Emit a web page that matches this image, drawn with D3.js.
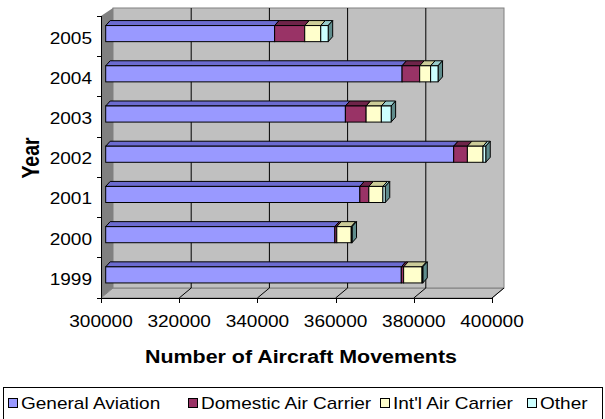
<!DOCTYPE html>
<html><head><meta charset="utf-8">
<script src="https://cdn.jsdelivr.net/npm/d3@7"></script>
<style>body{margin:0;background:#fff}svg{display:block}text{font-family:"Liberation Sans",Arial,sans-serif;fill:#000}</style>
</head><body><svg id="c" width="605" height="419"></svg>
<script>
const years = ["1999","2000","2001","2002","2003","2004","2005"];
const seriesNames = ["General Aviation","Domestic Air Carrier","Int'l Air Carrier","Other"];
const generalAviation = [375600,358600,365000,389000,361300,375800,343200];
const domesticAirCarrier = [600,500,2300,3500,5300,4500,7700];
const intlAirCarrier = [4700,3700,3600,4000,3900,2800,4100];
const other = [200,200,600,700,2500,1900,1900];
const xTicks = [300000,320000,340000,360000,380000,400000];
const colors = ["#9999FF","#993366","#FFFFCC","#CCFFFF"];
const topColors = ["#6B6BD0","#6E2449","#CCCC99","#99CCCC"];
const sideColors = ["#5C5C99","#5C1F3D","#99997A","#5F8C8C"];

const svg = d3.select("#c");
const SX = 1.19;
const x = d3.scaleLinear().domain([300000,400000]).range([101,492]);
const y = d3.scaleBand().domain(years.slice().reverse()).range([16,297.5]).paddingInner(0.6).paddingOuter(0.3);
const DX = 12, DYb = -10, DYt = -8;
const yTop = 16, yBot = 298;

// walls
svg.append("polygon").attr("points",[[101,yTop],[101+DX,yTop+DYt],[101+DX,yBot+DYb],[101,yBot]].join(" ")).attr("fill","#808080");
svg.append("polygon").attr("points",[[101,yBot],[101+DX,yBot+DYb],[x(400000)+DX,yBot+DYb],[x(400000),yBot]].join(" ")).attr("fill","#c0c0c0").attr("stroke","#808080");
svg.append("rect").attr("x",101+DX).attr("y",yTop+DYt).attr("width",x(400000)-101).attr("height",(yBot+DYb)-(yTop+DYt)).attr("fill","#c0c0c0").attr("stroke","#808080");

// gridlines
xTicks.forEach(v=>{
  if(v>300000 && v<400000){
    svg.append("line").attr("x1",x(v)+DX).attr("x2",x(v)+DX).attr("y1",yTop+DYt).attr("y2",yBot+DYb).attr("stroke","#000");
  }
  if(v>300000){
    svg.append("line").attr("x1",x(v)+DX).attr("y1",yBot+DYb).attr("x2",x(v)).attr("y2",yBot).attr("stroke","#000");
  }
});

// axes
svg.append("line").attr("x1",101.5).attr("x2",101.5).attr("y1",yTop).attr("y2",yBot).attr("stroke","#000");
svg.append("line").attr("x1",101).attr("x2",x(400000)).attr("y1",yBot+0.5).attr("y2",yBot+0.5).attr("stroke","#000");
const step = y.step();
for(let i=0;i<=years.length;i++){
  const yy = Math.round(yTop + i*step)+0.5;
  svg.append("line").attr("x1",97).attr("x2",101).attr("y1",yy).attr("y2",yy).attr("stroke","#000");
}
xTicks.forEach(v=>{
  const xx=Math.round(x(v))+0.5;
  svg.append("line").attr("x1",xx).attr("x2",xx).attr("y1",yBot).attr("y2",yBot+5).attr("stroke","#000");
});

function stext(px,py,str,anchor,opts={}){
  const sx = opts.sx||SX;
  const g = svg.append("g").attr("transform",`translate(${px},${py}) scale(${sx},1)`);
  return g.append("text").attr("text-anchor",anchor).attr("dominant-baseline","central")
    .attr("font-size",opts.size||16).attr("font-weight",opts.bold?"bold":"normal").text(str);
}
xTicks.forEach(v=>stext(x(v),322,String(v),"middle"));
years.forEach(yr=>stext(92,y(yr)+y.bandwidth()/2+2,yr,"end"));
stext(301,357,"Number of Aircraft Movements","middle",{bold:true,size:18});
svg.append("g").attr("transform","translate(31,158) scale(1.19,1) rotate(-90)").append("text")
  .attr("text-anchor","middle").attr("dominant-baseline","central").attr("font-size",19.5).attr("font-weight","bold").text("Year");

// bars
const xb = v => x(v)+4.7;
const FY = -2.5, TDX = 4.5, TDY = -5;
const data = years.map((yr,i)=>({year:yr, vals:[generalAviation[i],domesticAirCarrier[i],intlAirCarrier[i],other[i]]}));
data.forEach(d=>{
  const y0 = y(d.year)+FY, h = y.bandwidth();
  let s = 300000;
  const segs = [];
  d.vals.forEach((v,k)=>{
    const st = k===0?300000:s;
    const en = k===0?v:s+v;
    segs.push({k,st,en});
    s = en;
  });
  const g = svg.append("g");
  segs.forEach(sg=>{
    const a=xb(sg.st), b=xb(sg.en);
    g.append("polygon").attr("points",[[a,y0],[a+TDX,y0+TDY],[b+TDX,y0+TDY],[b,y0]].join(" "))
      .attr("fill",topColors[sg.k]).attr("stroke","#000").attr("stroke-width",1).attr("stroke-linejoin","round");
  });
  const last = segs[segs.length-1];
  const e = xb(last.en);
  g.append("polygon").attr("points",[[e,y0],[e+TDX,y0+TDY],[e+TDX,y0+TDY+h],[e,y0+h]].join(" "))
    .attr("fill",sideColors[3]).attr("stroke","#000");
  segs.forEach(sg=>{
    const a=xb(sg.st), b=xb(sg.en);
    g.append("rect").attr("x",a).attr("y",y0).attr("width",Math.max(0,b-a)).attr("height",h)
      .attr("fill",colors[sg.k]).attr("stroke","#000").attr("stroke-width",1);
  });
});

// legend
svg.append("rect").attr("x",3.5).attr("y",387.5).attr("width",599).attr("height",32).attr("fill","#fff").attr("stroke","#000");
const legX = [8,188,380,527];
seriesNames.forEach((n,k)=>{
  svg.append("rect").attr("x",legX[k]+0.5).attr("y",398.5).attr("width",9).attr("height",9).attr("fill",colors[k]).attr("stroke","#000");
  stext(legX[k]+13,403.5,n,"start",{size:17,sx:1.12});
});
</script></body></html>
